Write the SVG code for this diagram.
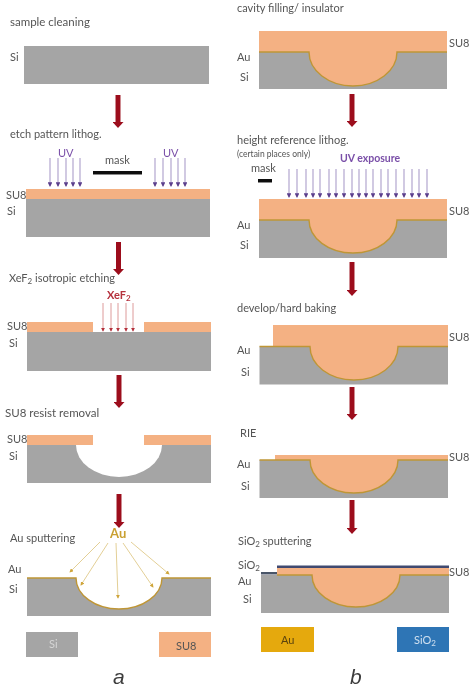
<svg xmlns="http://www.w3.org/2000/svg" width="474" height="691" viewBox="0 0 474 691">
<style>
text{font-family:Lato,"Open Sans","Liberation Sans",sans-serif;font-size:11px;fill:#555}
.si{fill:#a5a5a5}.su{fill:#f4b183}.w{fill:#fff}
.au{fill:none;stroke:#bf9636;stroke-width:1.4}
.uv{stroke:#b3a6cf;stroke-width:1.2;marker-end:url(#mv)}
.xe{stroke:#dd9a9a;stroke-width:1;marker-end:url(#mr)}
.ag{stroke:#e3cf96;stroke-width:1;marker-end:url(#my)}
.flow{stroke:#9c0f1f;stroke-width:5;marker-end:url(#mf)}
.sm{font-size:8px}.p{fill:#7a4fa8}
.big{font-family:"Liberation Sans",sans-serif;font-size:21px;font-style:italic;fill:#3c3c3c}
</style>
<defs>
<filter id="b" x="-5%" y="-5%" width="110%" height="110%"><feGaussianBlur stdDeviation="0.4"/></filter>
<marker id="mv" markerWidth="4" markerHeight="4" refX="3.2" refY="2" orient="auto"><path d="M0 0L4 2L0 4z" fill="#5b3f8c"/></marker>
<marker id="mr" markerWidth="4" markerHeight="4" refX="3.2" refY="2" orient="auto"><path d="M0 0L4 2L0 4z" fill="#b5303c"/></marker>
<marker id="my" markerWidth="4" markerHeight="4" refX="3.2" refY="2" orient="auto"><path d="M0 0L4 2L0 4z" fill="#cfa53a"/></marker>
<marker id="mf" markerUnits="userSpaceOnUse" markerWidth="6" markerHeight="11" refX="1" refY="5.500" orient="auto"><path d="M0 0L6 5.500L0 11z" fill="#9c0f1f"/></marker>
<path id="u" class="uv" d="M0 158V186"/>
<path id="u2" class="uv" d="M0 169V197"/>
<path id="x" class="xe" d="M0 303V331"/>
</defs>
<g filter="url(#b)">
<g id="connectors">
<path class="flow" d="M118 95V123"/><path class="flow" d="M118.500 242V270"/><path class="flow" d="M119 375V403"/><path class="flow" d="M119 494V523"/>
<path class="flow" d="M352 94V122"/><path class="flow" d="M352 262V291"/><path class="flow" d="M352 387V415"/><path class="flow" d="M352 500V529"/>
</g>
<g id="a1"><text x="10" y="26" style="font-size:11.500px">sample cleaning</text><text x="10" y="61">Si</text><rect class="si" x="24" y="46" width="185" height="38"/></g>
<g id="a2"><text x="10" y="138">etch pattern lithog.</text><text x="58" y="157" class="p">UV</text><text x="163" y="157" class="p">UV</text><text x="105" y="164">mask</text>
<rect x="93" y="171" width="49" height="3.500" fill="#111"/>
<use href="#u" x="50"/><use href="#u" x="58"/><use href="#u" x="66"/><use href="#u" x="73"/><use href="#u" x="80"/><use href="#u" x="155"/><use href="#u" x="163"/><use href="#u" x="171"/><use href="#u" x="178"/><use href="#u" x="185"/>
<rect class="su" x="26" y="189" width="184" height="10"/><rect class="si" x="26" y="199" width="184" height="38"/>
<text x="6" y="199">SU8</text><text x="7" y="215">Si</text></g>
<g id="a3"><text x="9" y="282">XeF<tspan class="sm" dy="2">2</tspan><tspan dy="-2"> isotropic etching</tspan></text>
<text x="107" y="299" style="font-weight:700;fill:#b5303c">XeF<tspan class="sm" dy="2" style="fill:#b5303c">2</tspan></text>
<use href="#x" x="103"/><use href="#x" x="111"/><use href="#x" x="118"/><use href="#x" x="126"/><use href="#x" x="133"/>
<rect class="su" x="27" y="322" width="66" height="10"/><rect class="su" x="144" y="322" width="67" height="10"/><rect class="si" x="27" y="332" width="184" height="39"/>
<text x="7" y="330">SU8</text><text x="9" y="347">Si</text></g>
<g id="a4"><text x="5" y="417" style="font-size:11.500px">SU8 resist removal</text>
<rect class="si" x="27" y="445" width="184" height="38"/><path class="w" d="M76 445H162A43 32 0 0 1 76 445Z"/>
<rect class="su" x="27" y="435" width="66" height="10"/><rect class="su" x="144" y="435" width="67" height="10"/>
<text x="7" y="443">SU8</text><text x="9" y="460">Si</text></g>
<g id="a5"><text x="10" y="542">Au sputtering</text><text x="110" y="538" style="font-size:13px;font-weight:700;fill:#c9a030">Au</text>
<rect class="si" x="27" y="578" width="184" height="38"/>
<path class="w" d="M76 578H162A43 31 0 0 1 76 578Z"/>
<path class="au" d="M27 578H76A43 31 0 0 0 162 578H211"/>
<path class="ag" d="M100 542L70 572"/><path class="ag" d="M108 543L81 585"/><path class="ag" d="M116 543L118 598"/><path class="ag" d="M123 543L153 587"/><path class="ag" d="M131 542L169 574"/>
<text x="8" y="573">Au</text><text x="9" y="593">Si</text></g>
<g id="legend-si"><rect class="si" x="26" y="632" width="52" height="25"/><text x="49" y="648" style="fill:#d5d5d5">Si</text></g>
<g id="legend-su8"><rect class="su" x="159" y="632" width="52" height="25"/><text x="176" y="650">SU8</text></g>
<text id="label-a" class="big" x="113" y="684">a</text>
<g id="b1"><text x="237" y="12">cavity filling/ insulator</text>
<rect class="si" x="259" y="52" width="188" height="37"/>
<path class="su" d="M259 31H447V52H397A44 34 0 0 1 309 52H259Z"/>
<path class="au" d="M259 52H309A44 34 0 0 0 397 52H447"/>
<text x="449" y="47">SU8</text><text x="237" y="61">Au</text><text x="240" y="81">Si</text></g>
<g id="b2"><text x="237" y="144">height reference lithog.</text><text x="237" y="157" style="font-size:8.500px">(certain places only)</text>
<text x="340" y="162" style="font-weight:700;fill:#7a4fa8;font-size:10.500px">UV exposure</text><text x="251" y="172">mask</text>
<rect x="258" y="179" width="14" height="3.500" fill="#111"/>
<use href="#u2" x="289"/><use href="#u2" x="297"/><use href="#u2" x="306"/><use href="#u2" x="313"/><use href="#u2" x="320"/><use href="#u2" x="329"/><use href="#u2" x="336"/><use href="#u2" x="344"/><use href="#u2" x="352"/><use href="#u2" x="359"/><use href="#u2" x="366"/><use href="#u2" x="373"/><use href="#u2" x="381"/><use href="#u2" x="388"/><use href="#u2" x="396"/><use href="#u2" x="404"/><use href="#u2" x="412"/><use href="#u2" x="419"/><use href="#u2" x="427"/>
<rect class="si" x="259" y="220" width="188" height="38"/>
<path class="su" d="M259 199H447V220H397A44 33 0 0 1 309 220H259Z"/>
<path class="au" d="M259 220H309A44 33 0 0 0 397 220H447"/>
<text x="449" y="215">SU8</text><text x="237" y="229">Au</text><text x="240" y="249">Si</text></g>
<g id="b3"><text x="237" y="312">develop/hard baking</text>
<rect class="si" x="259.500" y="346.500" width="188.500" height="38"/>
<path class="su" d="M273 325H448V346.500H398A44 33.500 0 0 1 310 346.500H273Z"/>
<path class="au" d="M259.500 346.500H310A44 33.500 0 0 0 398 346.500H448"/>
<text x="449" y="341">SU8</text><text x="237" y="354">Au</text><text x="241" y="376">Si</text></g>
<g id="b4"><text x="240" y="437">RIE</text>
<rect class="si" x="259.500" y="460" width="188.500" height="38"/>
<path class="su" d="M275 455H448V460H398A44 33 0 0 1 310 460H275Z"/>
<path class="au" d="M259.500 460H310A44 33 0 0 0 398 460H448"/>
<text x="449" y="461">SU8</text><text x="237" y="468">Au</text><text x="241" y="490">Si</text></g>
<g id="b5"><text x="238" y="545">SiO<tspan class="sm" dy="1.500">2</tspan><tspan dy="-1.500"> sputtering</tspan></text>
<rect class="si" x="261" y="575" width="188" height="38"/>
<path class="su" d="M277 568H449V575H400A44 32 0 0 1 312 575H277Z"/>
<path class="au" d="M277 575H312A44 32 0 0 0 400 575H449"/>
<rect x="277" y="565.500" width="172" height="2.500" fill="#3f4a70"/><rect x="261" y="572" width="16" height="2.500" fill="#4a5468"/>
<text x="449" y="576">SU8</text><text x="238" y="569">SiO<tspan class="sm" dy="1.500">2</tspan></text><text x="238" y="585">Au</text><text x="243" y="603">Si</text></g>
<g id="legend-au"><rect x="261" y="627" width="53" height="25" fill="#e5a910"/><text x="281" y="644" style="fill:#5a4310">Au</text></g>
<g id="legend-sio2"><rect x="397" y="627" width="52" height="25" fill="#2f75b5"/><text x="414" y="644" style="fill:#cfe0f0">SiO<tspan class="sm" dy="1.500" style="fill:#cfe0f0">2</tspan></text></g>
<text id="label-b" class="big" x="350" y="684">b</text>
</g>
</svg>
